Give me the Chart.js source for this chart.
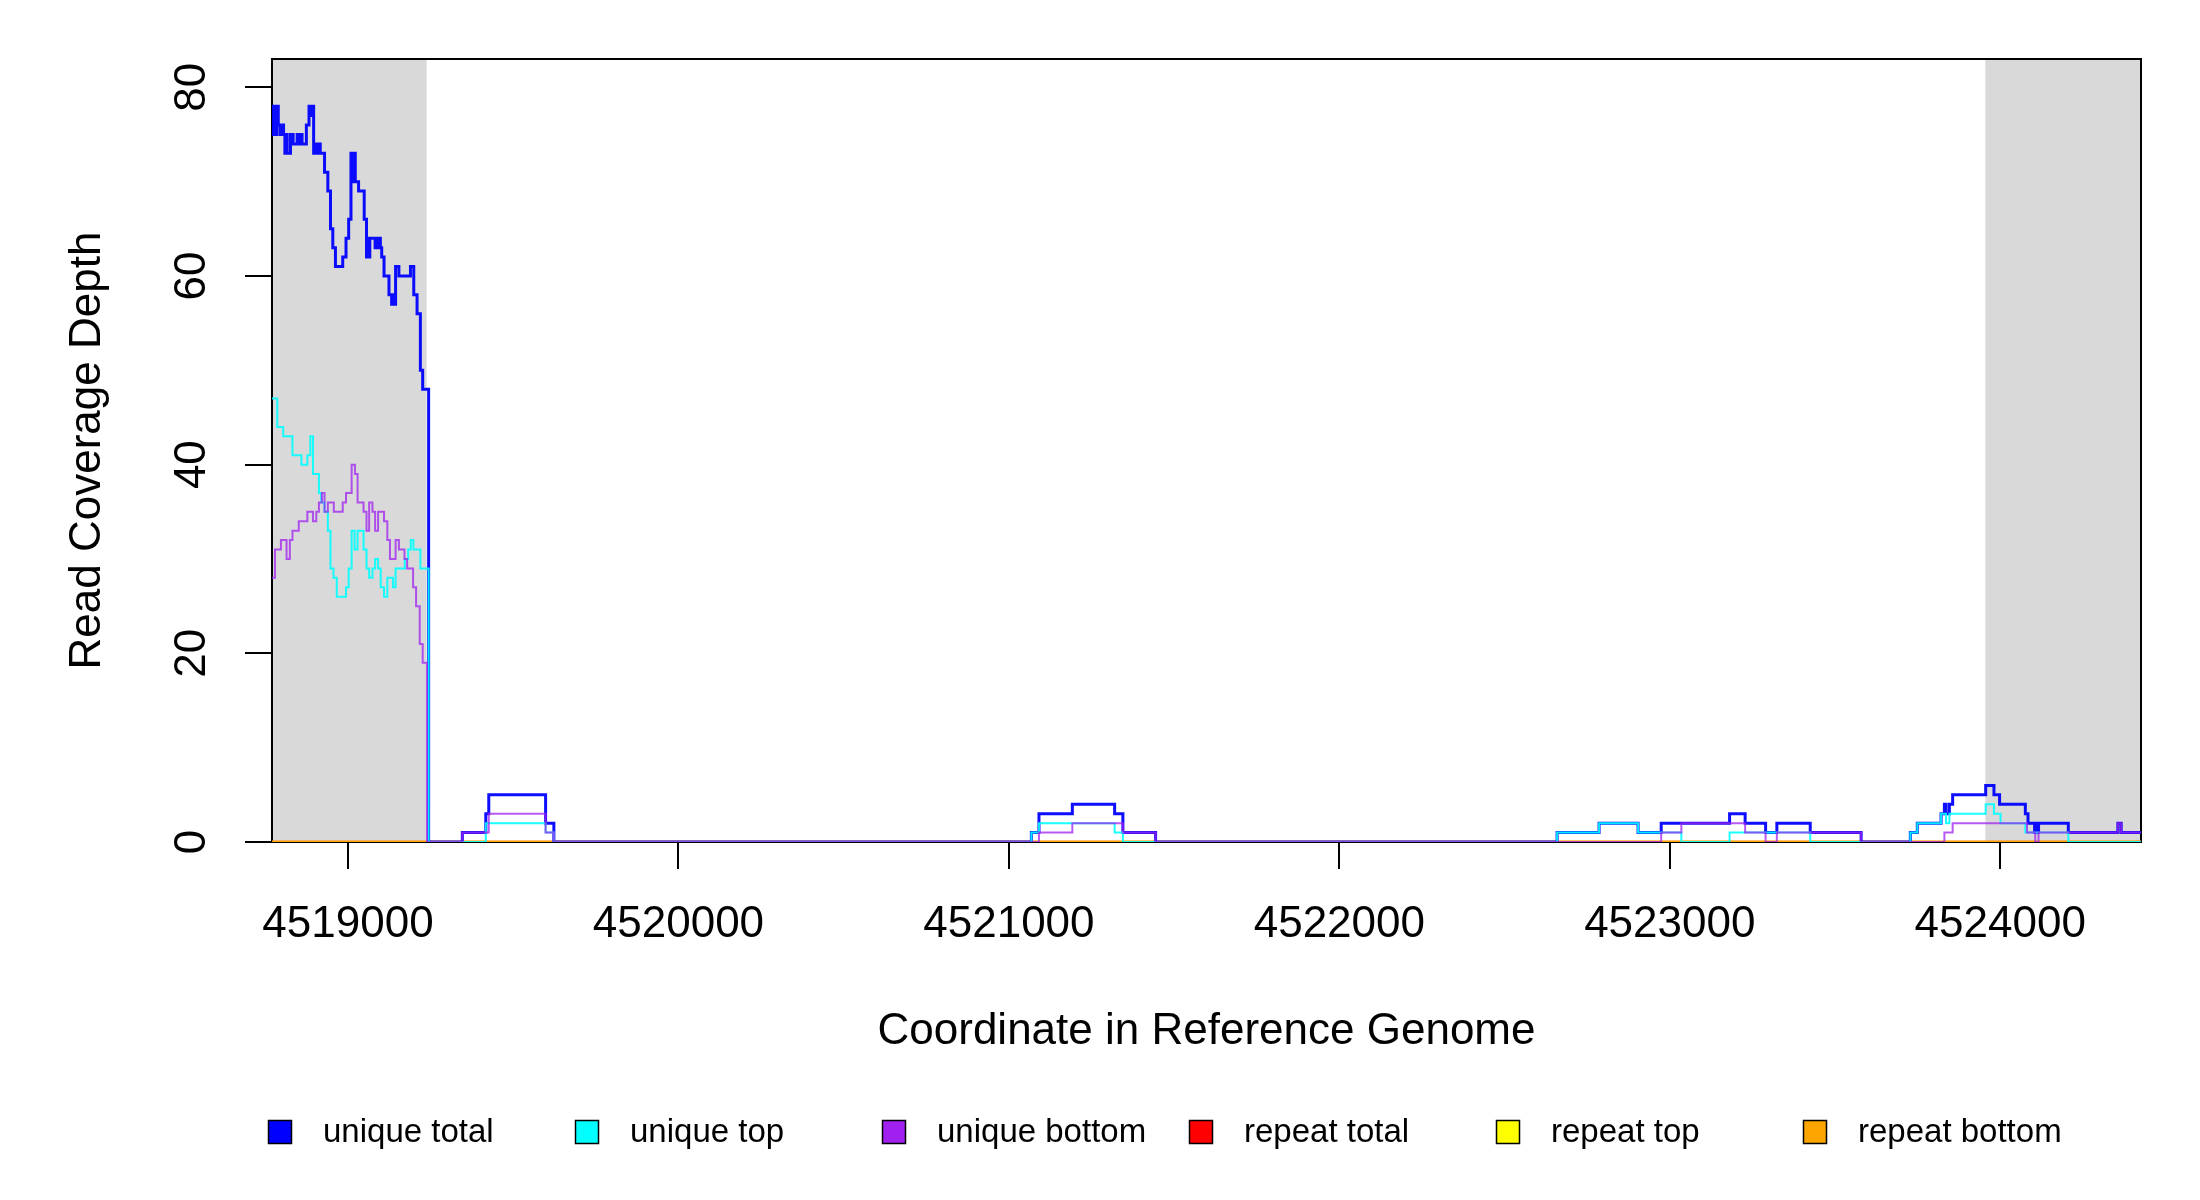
<!DOCTYPE html>
<html>
<head>
<meta charset="utf-8">
<title>Read Coverage Depth</title>
<script src="https://cdn.jsdelivr.net/npm/chart.js@4.4.1/dist/chart.umd.min.js"></script>
<style>
  html, body { margin: 0; padding: 0; background: #fff; }
  #covChart { display: block; }
</style>
</head>
<body>
<canvas id="covChart" width="2200" height="1200"></canvas>
<script>
// Plot window (genome coordinates) and axis ticks
const xMin = 4518770;
const xMax = 4524426;
const yMax = 83;
const xTicks = [4519000, 4520000, 4521000, 4522000, 4523000, 4524000];
const yTicks = [0, 20, 40, 60, 80];

// Grey flanking regions
const flankStarts = [4518770, 4523955];
const flankEnds = [4519238, 4524426];

// Series labels and colours (legend order)
const seriesLabels = ['unique total', 'unique top', 'unique bottom', 'repeat total', 'repeat top', 'repeat bottom'];
const seriesColors = ['#0000FF', '#00FFFF', '#A020F0', '#FF0000', '#FFFF00', '#FFA500'];

// unique total : start of each step and its depth
const totalPos = [4518770, 4518773, 4518776, 4518779, 4518782, 4518785, 4518789, 4518795, 4518799, 4518805,
  4518809, 4518813, 4518816, 4518826, 4518834, 4518846, 4518851, 4518856, 4518861, 4518874,
  4518882, 4518888, 4518891, 4518896, 4518900, 4518906, 4518909, 4518916, 4518929, 4518939,
  4518947, 4518954, 4518962, 4518984, 4518994, 4519002, 4519009, 4519012, 4519015, 4519022,
  4519032, 4519049, 4519056, 4519060, 4519063, 4519066, 4519082, 4519086, 4519090, 4519094,
  4519098, 4519102, 4519109, 4519124, 4519132, 4519137, 4519140, 4519144, 4519154, 4519189,
  4519199, 4519209, 4519219, 4519226, 4519244, 4519346, 4519417, 4519426, 4519598, 4519623,
  4521068, 4521091, 4521192, 4521320, 4521345, 4521444, 4522659, 4522786, 4522904, 4522974,
  4523181, 4523228, 4523290, 4523324, 4523425, 4523579, 4523728, 4523749, 4523821, 4523831,
  4523836, 4523846, 4523856, 4523956, 4523981, 4523998, 4524076, 4524084, 4524104, 4524110,
  4524113, 4524116, 4524206, 4524356, 4524366];
const totalVal = [75, 78, 75, 78, 75, 78, 76, 75, 76, 75,
  73, 75, 73, 75, 74, 75, 74, 75, 74, 76,
  78, 77, 78, 73, 74, 73, 74, 73, 71, 69,
  65, 63, 61, 62, 64, 66, 73, 70, 73, 70,
  69, 66, 62, 64, 62, 64, 63, 64, 63, 64,
  63, 62, 60, 58, 57, 58, 57, 61, 60, 61,
  58, 56, 50, 48, 0, 1, 3, 5, 2, 0,
  1, 3, 4, 3, 1, 0, 1, 2, 1, 2,
  3, 2, 1, 2, 1, 0, 1, 2, 3, 4,
  3, 4, 5, 6, 5, 4, 3, 2, 1, 2,
  1, 2, 1, 2, 1];

// unique top
const topPos = [4518770, 4518786, 4518804, 4518832, 4518859, 4518877, 4518886, 4518894, 4518912, 4518919,
  4518929, 4518939, 4518947, 4518956, 4518966, 4518994, 4519002, 4519011, 4519020, 4519029,
  4519047, 4519056, 4519064, 4519074, 4519082, 4519091, 4519099, 4519109, 4519119, 4519136,
  4519144, 4519172, 4519182, 4519190, 4519198, 4519219, 4519244, 4519417, 4519598, 4519623,
  4521068, 4521091, 4521320, 4521345, 4522659, 4522786, 4522904, 4523035, 4523181, 4523425,
  4523728, 4523749, 4523821, 4523836, 4523846, 4523956, 4523981, 4524001, 4524076, 4524206];
const topVal = [47, 44, 43, 41, 40, 41, 43, 39, 37, 36,
  35, 33, 29, 28, 26, 27, 29, 33, 31, 33,
  31, 29, 28, 29, 30, 29, 27, 26, 28, 27,
  29, 30, 31, 32, 31, 29, 0, 2, 1, 0,
  1, 2, 1, 0, 1, 2, 1, 0, 1, 0,
  1, 2, 3, 2, 3, 4, 3, 2, 1, 0];

// unique bottom
const bottomPos = [4518770, 4518779, 4518797, 4518814, 4518824, 4518832, 4518851, 4518877, 4518894, 4518904,
  4518912, 4518921, 4518929, 4518939, 4518957, 4518984, 4518994, 4519011, 4519021, 4519029,
  4519047, 4519056, 4519064, 4519074, 4519082, 4519091, 4519109, 4519119, 4519127, 4519144,
  4519154, 4519171, 4519179, 4519197, 4519206, 4519217, 4519226, 4519239, 4519346, 4519426,
  4519598, 4519623, 4521091, 4521192, 4521345, 4521444, 4522974, 4523035, 4523228, 4523290,
  4523324, 4523579, 4523831, 4523856, 4524081, 4524106, 4524116, 4524356, 4524366];
const bottomVal = [28, 31, 32, 30, 32, 33, 34, 35, 34, 35,
  36, 37, 35, 36, 35, 36, 37, 40, 39, 36,
  35, 33, 36, 35, 33, 35, 34, 32, 30, 32,
  31, 30, 29, 27, 25, 21, 19, 0, 1, 3,
  1, 0, 1, 2, 1, 0, 1, 2, 1, 0,
  1, 0, 1, 2, 1, 0, 1, 2, 1];

// repeat series: zero over the whole window
const repeatPos = [4518770];
const repeatTotalVal = [0];
const repeatTopVal = [0];
const repeatBottomVal = [0];

function steps(pos, val) {
    const pts = pos.map((x, i) => ({ x: x, y: val[i] }));
    pts.push({ x: xMax, y: val[val.length - 1] });
    return pts;
}

const FONT = "'Liberation Sans', Arial, sans-serif";

// grey flanks and the plot box, both under the lines
const flankPlugin = {
    id: 'flanks',
    beforeDatasetsDraw(chart) {
        const { ctx, chartArea, scales } = chart;
        ctx.save();
        ctx.fillStyle = '#D9D9D9';
        flankStarts.forEach((s, i) => {
            const x0 = scales.x.getPixelForValue(s);
            const x1 = scales.x.getPixelForValue(flankEnds[i]);
            ctx.fillRect(x0, chartArea.top, x1 - x0, chartArea.bottom - chartArea.top);
        });
        ctx.strokeStyle = '#000';
        ctx.lineWidth = 2;
        ctx.strokeRect(chartArea.left, chartArea.top, chartArea.right - chartArea.left, chartArea.bottom - chartArea.top);
        ctx.restore();
    }
};

// legend in equal columns, like R
const legendPlugin = {
    id: 'colLegend',
    afterDraw(chart) {
        const { ctx } = chart;
        ctx.save();
        const cy = 1132, size = 23, step = 307;
        ctx.font = '33px ' + FONT;
        ctx.textBaseline = 'middle';
        ctx.textAlign = 'left';
        seriesLabels.forEach((lab, i) => {
            const cx = 280 + i * step;
            ctx.fillStyle = seriesColors[i];
            ctx.fillRect(cx - size / 2, cy - size / 2, size, size);
            ctx.lineWidth = 1.5;
            ctx.strokeStyle = '#000';
            ctx.strokeRect(cx - size / 2, cy - size / 2, size, size);
            ctx.fillStyle = '#000';
            ctx.fillText(lab, cx + 43, cy + 1);
        });
        ctx.restore();
    }
};

const ctx = document.getElementById('covChart').getContext('2d');
new Chart(ctx, {
    type: 'line',
    data: {
        datasets: [
            { label: seriesLabels[0], data: steps(totalPos, totalVal), borderColor: 'rgba(0,0,255,0.95)', borderWidth: 3, order: 3 },
            { label: seriesLabels[1], data: steps(topPos, topVal), borderColor: 'rgba(0,255,255,0.9)', borderWidth: 2, order: 2 },
            { label: seriesLabels[2], data: steps(bottomPos, bottomVal), borderColor: 'rgba(160,32,240,0.75)', borderWidth: 2, order: 1 },
            { label: seriesLabels[3], data: steps(repeatPos, repeatTotalVal), borderColor: seriesColors[3], borderWidth: 2.5, order: 6 },
            { label: seriesLabels[4], data: steps(repeatPos, repeatTopVal), borderColor: seriesColors[4], borderWidth: 2.5, order: 5 },
            { label: seriesLabels[5], data: steps(repeatPos, repeatBottomVal), borderColor: seriesColors[5], borderWidth: 2.5, order: 4 }
        ].map(d => Object.assign(d, { stepped: true, pointRadius: 0, fill: false, tension: 0 }))
    },
    options: {
        responsive: false,
        animation: false,
        devicePixelRatio: 1,
        events: [],
        layout: { padding: { top: 59, right: 59, left: 0, bottom: 0 } },
        plugins: {
            legend: { display: false },
            tooltip: { enabled: false }
        },
        scales: {
            x: {
                type: 'linear',
                min: xMin,
                max: xMax,
                afterBuildTicks: s => { s.ticks = xTicks.map(v => ({ value: v })); },
                afterFit: s => { s.height = 358; },
                ticks: {
                    callback: v => String(v),
                    color: '#000',
                    padding: 29,
                    maxRotation: 0,
                    autoSkip: false,
                    font: { family: FONT, size: 44 }
                },
                grid: { drawOnChartArea: false, drawTicks: true, tickLength: 27, color: '#000', lineWidth: 2 },
                border: { display: false },
                title: {
                    display: true,
                    text: 'Coordinate in Reference Genome',
                    color: '#000',
                    font: { family: FONT, size: 44 },
                    padding: { top: 0, bottom: 142 }
                }
            },
            y: {
                type: 'linear',
                min: 0,
                max: yMax,
                afterBuildTicks: s => { s.ticks = yTicks.map(v => ({ value: v })); },
                afterFit: s => { s.width = 272; },
                ticks: {
                    color: '#000',
                    minRotation: 90,
                    maxRotation: 90,
                    crossAlign: 'center',
                    padding: 28,
                    font: { family: FONT, size: 44 }
                },
                grid: { drawOnChartArea: false, drawTicks: true, tickLength: 27, color: '#000', lineWidth: 2 },
                border: { display: false },
                title: {
                    display: true,
                    text: 'Read Coverage Depth',
                    color: '#000',
                    font: { family: FONT, size: 44 },
                    padding: { top: 61, bottom: 0 }
                }
            }
        }
    },
    plugins: [flankPlugin, legendPlugin]
});
</script>
</body>
</html>
